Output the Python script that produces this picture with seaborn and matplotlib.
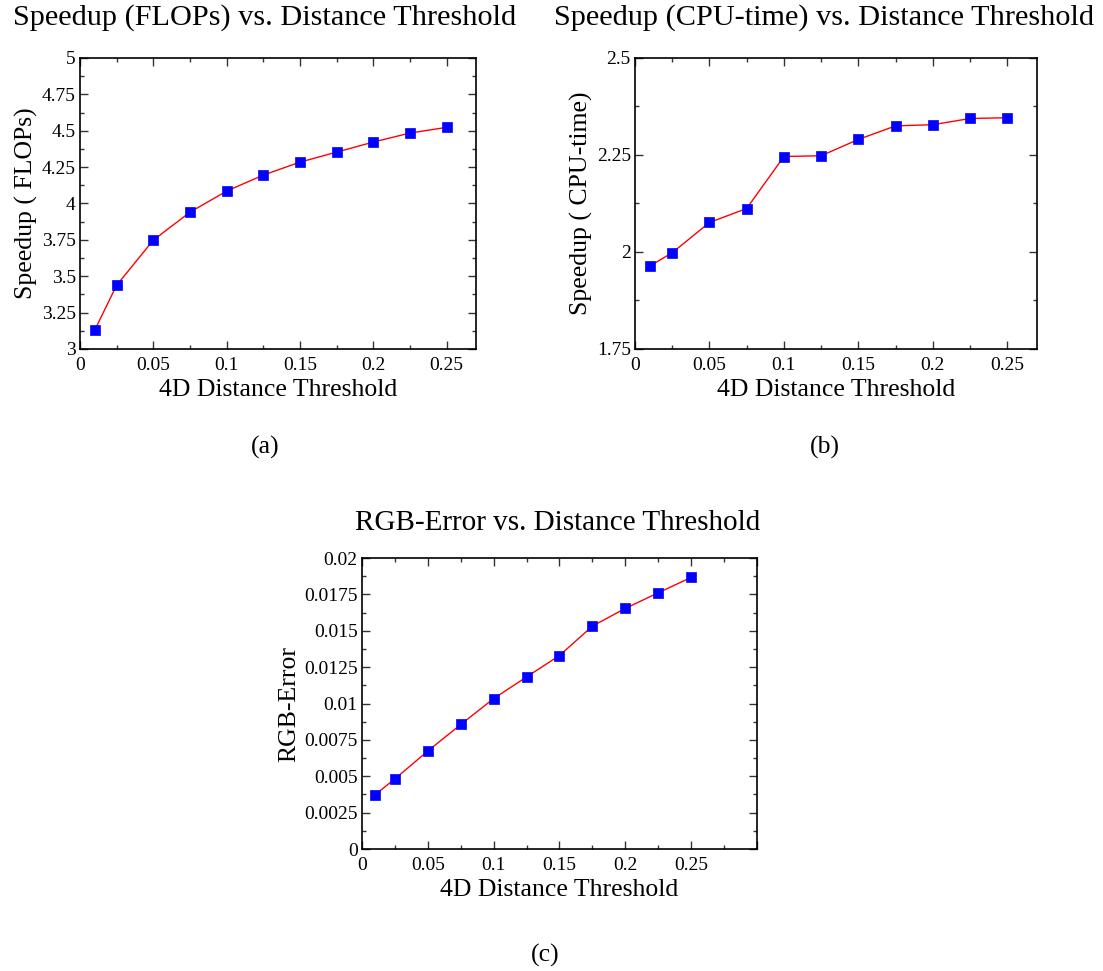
#!/usr/bin/env python3
"""Speedup and RGB error vs. 4D distance threshold (three panels)."""

import matplotlib
matplotlib.use("Agg")
import matplotlib.pyplot as plt
from matplotlib.ticker import MultipleLocator
import pandas as pd
import seaborn as sns

# Data
thresholds = [0.01, 0.025, 0.05, 0.075, 0.1, 0.125, 0.15, 0.175, 0.2, 0.225, 0.25]
speedup_flops = [3.128, 3.438, 3.748, 3.940, 4.085, 4.195, 4.284, 4.353, 4.422, 4.484, 4.523]
speedup_cpu = [1.964, 1.998, 2.076, 2.112, 2.246, 2.248, 2.290, 2.325, 2.328, 2.344, 2.346]
rgb_error = [0.00374, 0.00482, 0.00674, 0.00856, 0.01034, 0.01183,
             0.01330, 0.01532, 0.01654, 0.01761, 0.01867]

x_label = "4D Distance Threshold"
titles = ["Speedup (FLOPs) vs. Distance Threshold",
          "Speedup (CPU-time) vs. Distance Threshold",
          "RGB-Error vs. Distance Threshold"]
y_labels = ["Speedup ( FLOPs)", "Speedup ( CPU-time)", "RGB-Error"]
sub_labels = ["(a)", "(b)", "(c)"]

sns.set_theme(style="ticks")
plt.rcParams["font.family"] = ["Liberation Serif", "DejaVu Serif"]
plt.rcParams["text.color"] = "black"
plt.rcParams["axes.labelcolor"] = "black"
plt.rcParams["xtick.color"] = "black"
plt.rcParams["ytick.color"] = "black"


def draw_panel(ax, y, ylim, ymajor, xlim, ylabel):
    df = pd.DataFrame({"x": thresholds, "y": y})
    sns.lineplot(data=df, x="x", y="y", ax=ax, color="red", linewidth=1.0,
                 marker="s", markersize=6.5, markerfacecolor="#0000ff",
                 markeredgecolor="#0000ff", markeredgewidth=0.5)
    ax.set_xlim(*xlim)
    ax.set_ylim(*ylim)
    ax.xaxis.set_major_locator(MultipleLocator(0.05))
    ax.xaxis.set_minor_locator(MultipleLocator(0.025))
    ax.yaxis.set_major_locator(MultipleLocator(ymajor))
    ax.yaxis.set_minor_locator(MultipleLocator(ymajor / 2))
    ax.xaxis.set_major_formatter(plt.FuncFormatter(lambda v, p: f"{v:g}" if v < 0.26 else ""))
    ax.yaxis.set_major_formatter(plt.FuncFormatter(lambda v, p: f"{round(v, 6):g}"))
    ax.tick_params(which="both", direction="in", top=True, right=True,
                   width=1.0, color="#333333", labelsize=14)
    ax.tick_params(axis="x", pad=5.5)
    ax.tick_params(axis="y", pad=3)
    ax.tick_params(which="major", length=5.5)
    ax.tick_params(which="minor", length=3)
    for s in ax.spines.values():
        s.set_linewidth(1.2)
        s.set_color("black")
    ax.set_xlabel(x_label, fontsize=18.5, labelpad=4)
    ax.set_ylabel(ylabel, fontsize=18.5, labelpad=3)


fig = plt.figure(figsize=(11.03, 9.71), dpi=100)
ax_a = fig.add_axes([0.0725, 0.6406, 0.359, 0.2997])
ax_b = fig.add_axes([0.5757, 0.6406, 0.3645, 0.2997])
ax_c = fig.add_axes([0.3282, 0.1256, 0.3581, 0.2997])

draw_panel(ax_a, speedup_flops, (3, 5), 0.25, (0, 0.27), y_labels[0])
draw_panel(ax_b, speedup_cpu, (1.75, 2.5), 0.25, (0, 0.27), y_labels[1])
draw_panel(ax_c, rgb_error, (0, 0.02), 0.0025, (0, 0.30), y_labels[2])

# panel titles and sub-captions
fig.text(265 / 1103, 1 - 18 / 971, titles[0], ha="center", va="center", fontsize=21.8)
fig.text(824 / 1103, 1 - 18 / 971, titles[1], ha="center", va="center", fontsize=21.8)
fig.text(558 / 1103, 1 - 523 / 971, titles[2], ha="center", va="center", fontsize=21)
fig.text(265 / 1103, 1 - 447 / 971, sub_labels[0], ha="center", va="center", fontsize=18.5)
fig.text(825 / 1103, 1 - 447 / 971, sub_labels[1], ha="center", va="center", fontsize=18.5)
fig.text(545 / 1103, 1 - 955 / 971, sub_labels[2], ha="center", va="center", fontsize=18.5)

fig.savefig("out.png", dpi=100)
